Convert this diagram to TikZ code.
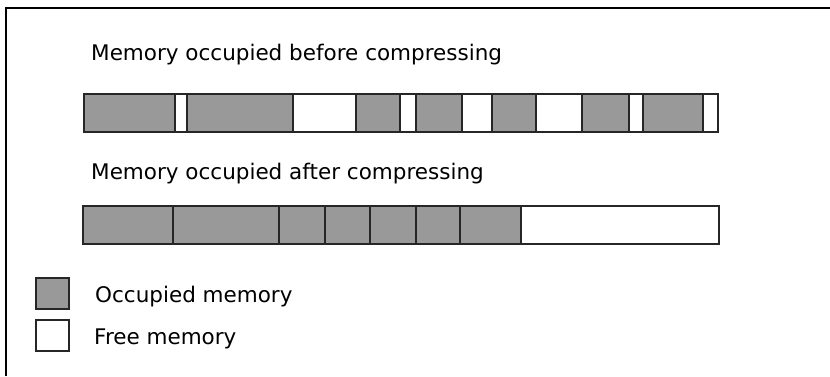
\documentclass[tikz,border=0pt]{standalone}
\usepackage{fontspec}
\setmainfont{DejaVu Sans}
\begin{document}
\begin{tikzpicture}[x=1pt,y=-1pt,
		occ/.style={draw=black!85, line width=2pt, fill=black!40},
		vacant/.style={draw=black!85, line width=2pt, fill=white},
		memtext/.style={anchor=base west, inner sep=0pt, font=\fontsize{21.5}{25}\selectfont}]

		\useasboundingbox (0,0) rectangle (830,376);

		% Frame
		\draw[line width=2.2pt] (6,376) -- (6,8) -- (830,8);

		% Before compressing
		\node[memtext] (before) at (91,60) {Memory occupied before compressing};
		\foreach \a/\b in {84/175, 187/293, 356/400, 416/462, 492/536, 582/629, 643/703}
		\draw[occ] (\a,94) rectangle (\b,132);
		\foreach \a/\b in {175/187, 293/356, 400/416, 462/492, 536/582, 629/643, 703/718}
		\draw[vacant] (\a,94) rectangle (\b,132);

		% After compressing
		\node[memtext] (after) at (91,179) {Memory occupied after compressing};
		\foreach \a/\b in {83/173, 173/279, 279/325, 325/370, 370/416, 416/460, 460/521}
		\draw[occ] (\a,206) rectangle (\b,244);
		\draw[vacant] (521,206) rectangle (719,244);

		% Legend
		\draw[occ] (36,278) rectangle (69,309);
		\draw[vacant] (36,320) rectangle (69,351);
		\node[memtext] (occtext) at (95,302) {Occupied memory};
		\node[memtext] (freetext) at (94,344) {Free memory};

	\end{tikzpicture}
\end{document}
